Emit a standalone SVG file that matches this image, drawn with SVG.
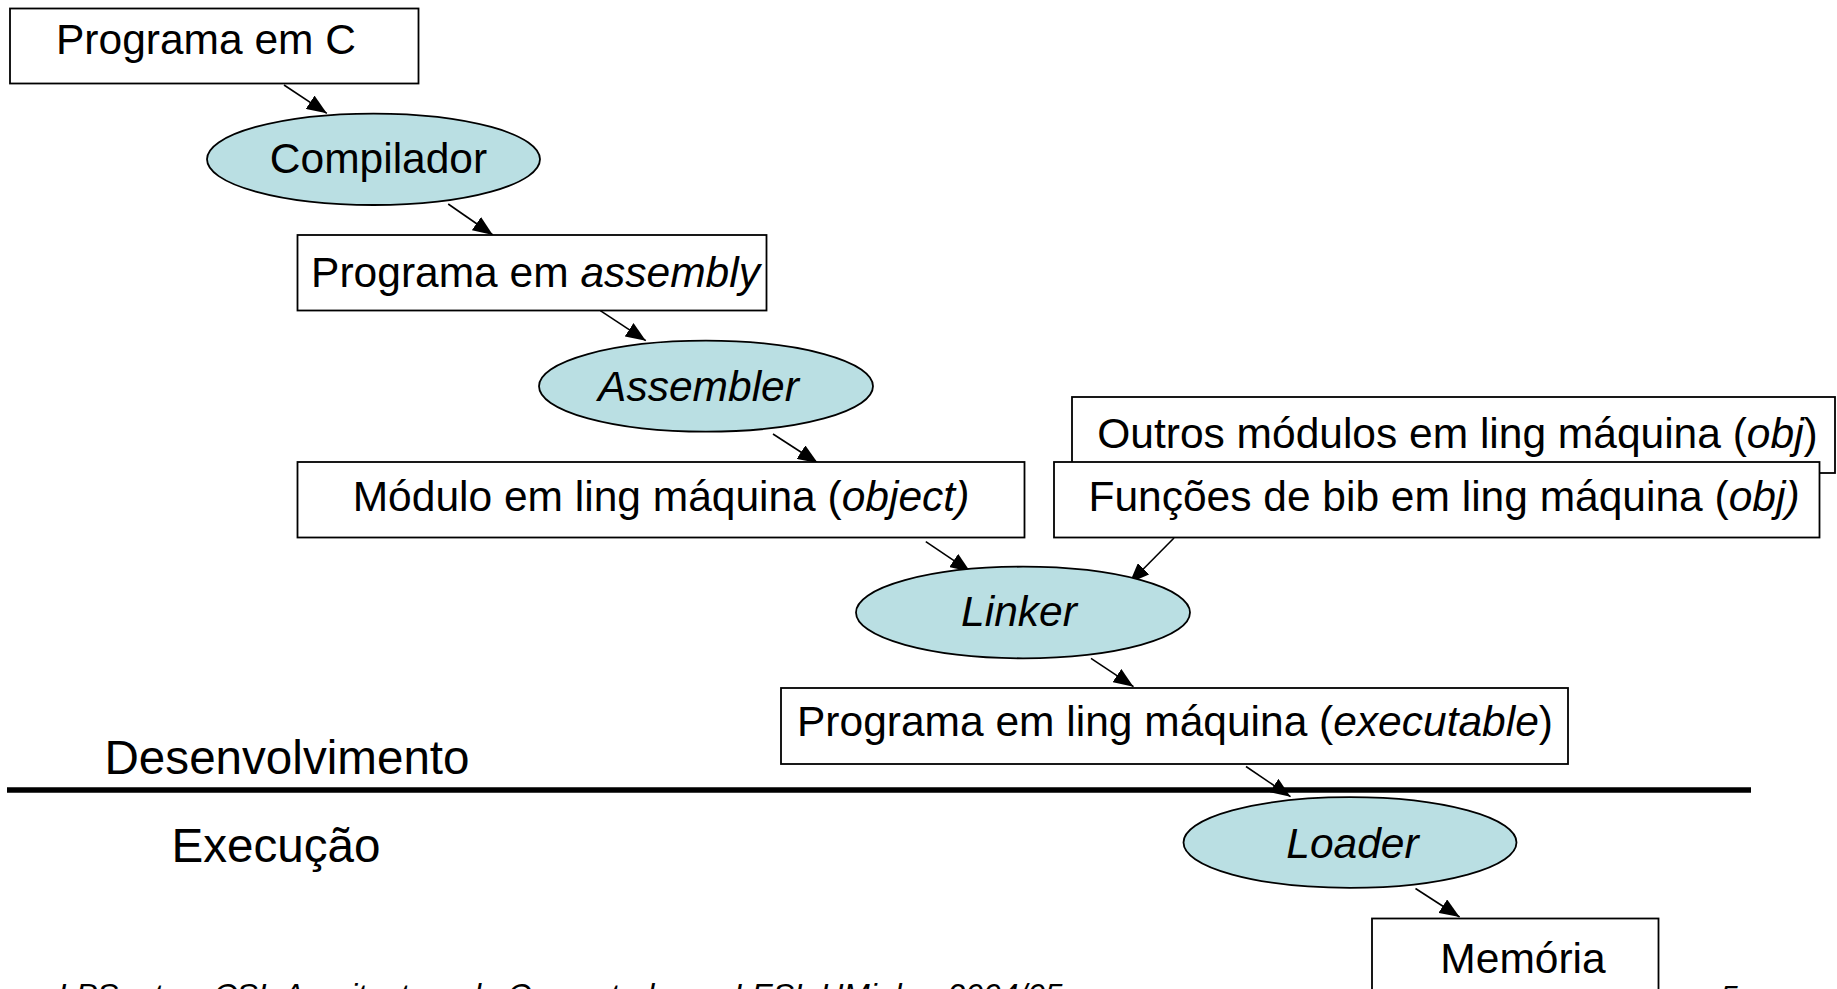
<svg xmlns="http://www.w3.org/2000/svg" width="1837" height="989" viewBox="0 0 1837 989">
  <style>
    .box { fill: #ffffff; stroke: #000000; stroke-width: 1.8; }
    .proc { fill: #badfe3; stroke: #000000; stroke-width: 1.8; }
    .lbl { font-family: "Liberation Sans", Arial, sans-serif; font-size: 42.5px; fill: #000000; text-anchor: middle; }
    .phase { font-family: "Liberation Sans", Arial, sans-serif; font-size: 47.6px; fill: #000000; }
    .foot { font-family: "Liberation Sans", Arial, sans-serif; font-size: 31.8px; font-style: italic; fill: #000000; }
    .it { font-style: italic; }
    .edge { stroke: #000000; stroke-width: 1.6; fill: none; marker-end: url(#arrow); }
  </style>
  <defs>
    <marker id="arrow" viewBox="0 0 20 16" refX="20" refY="8" markerWidth="20" markerHeight="16" markerUnits="userSpaceOnUse" orient="auto">
      <path d="M0,0 L20,8 L0,16 z" fill="#000000"/>
    </marker>
  </defs>

  <rect width="1837" height="989" fill="#ffffff"/>

  <!-- phase separator -->
  <line x1="7" y1="790" x2="1751" y2="790" stroke="#000000" stroke-width="5.5"/>
  <text class="phase" x="104.5" y="773.5">Desenvolvimento</text>
  <text class="phase" x="171.4" y="861.5">Execução</text>

  <!-- connectors -->
  <g id="connectors">
    <line class="edge" x1="284" y1="85" x2="326.8" y2="113.3"/>
    <line class="edge" x1="448.2" y1="204" x2="492.9" y2="235"/>
    <line class="edge" x1="600.3" y1="310.7" x2="645.8" y2="340.7"/>
    <line class="edge" x1="773" y1="434" x2="817.8" y2="463"/>
    <line class="edge" x1="925.8" y1="541.7" x2="970.3" y2="571.7"/>
    <line class="edge" x1="1174" y1="538" x2="1129.5" y2="583"/>
    <line class="edge" x1="1091" y1="658.3" x2="1133.5" y2="686.7"/>
    <line class="edge" x1="1246" y1="766.5" x2="1290.5" y2="796.7"/>
    <line class="edge" x1="1415.5" y1="888.5" x2="1459.6" y2="917"/>
  </g>

  <g id="src-c">
    <rect class="box" x="10" y="8.5" width="408.5" height="75"/>
    <text class="lbl" x="206" y="54">Programa em C</text>
  </g>

  <g id="compiler">
    <ellipse class="proc" cx="373.5" cy="159.3" rx="166.5" ry="45.7"/>
    <text class="lbl" x="378.5" y="173">Compilador</text>
  </g>

  <g id="src-asm">
    <rect class="box" x="297.5" y="235" width="469" height="75.5"/>
    <text class="lbl" x="535.5" y="287">Programa em <tspan class="it">assembly</tspan></text>
  </g>

  <g id="assembler">
    <ellipse class="proc" cx="706" cy="386.2" rx="167" ry="45.5"/>
    <text class="lbl it" x="698.5" y="400.5">Assembler</text>
  </g>

  <g id="other-obj">
    <rect class="box" x="1072" y="397" width="763" height="76"/>
    <text class="lbl" x="1457.5" y="448">Outros módulos em ling máquina (<tspan class="it">obj</tspan>)</text>
  </g>

  <g id="module-obj">
    <rect class="box" x="297.5" y="462" width="727" height="75.5"/>
    <text class="lbl" x="661" y="511">Módulo em ling máquina (<tspan class="it">object)</tspan></text>
  </g>

  <g id="lib-obj">
    <rect class="box" x="1054" y="462" width="765.5" height="75.5"/>
    <text class="lbl" x="1444" y="511">Funções de bib em ling máquina (<tspan class="it">obj)</tspan></text>
  </g>

  <g id="linker">
    <ellipse class="proc" cx="1023" cy="612.5" rx="167" ry="45.8"/>
    <text class="lbl it" x="1019" y="626">Linker</text>
  </g>

  <g id="executable">
    <rect class="box" x="781" y="688" width="787" height="76"/>
    <text class="lbl" x="1175" y="735.5">Programa em ling máquina (<tspan class="it">executable</tspan>)</text>
  </g>

  <g id="loader">
    <ellipse class="proc" cx="1350" cy="842.5" rx="166.5" ry="45.3"/>
    <text class="lbl it" x="1352.5" y="857.5">Loader</text>
  </g>

  <g id="memory">
    <rect class="box" x="1372" y="918.5" width="286.5" height="80"/>
    <text class="lbl" x="1523" y="973">Memória</text>
  </g>

  <!-- slide footer, clipped by the lower edge -->
  <text class="foot" x="58" y="1006">LPSantos, CSI: Arquitectura de Computadores, LESI, UMinho, 2004/05</text>
  <text class="foot" x="1720" y="1008">5</text>
</svg>
